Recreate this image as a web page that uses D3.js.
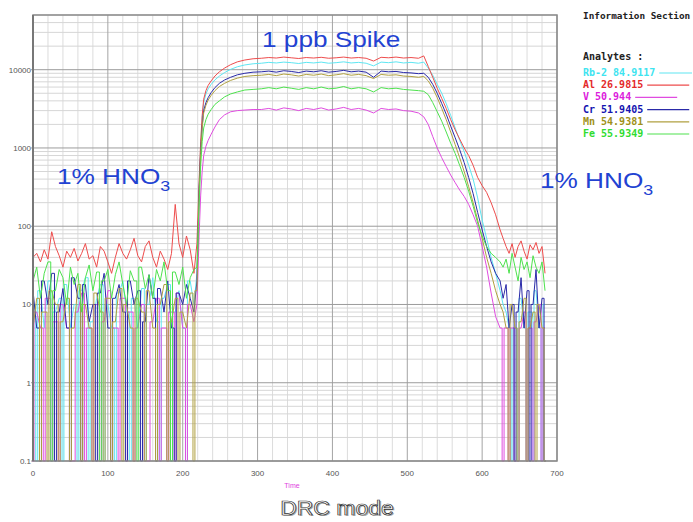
<!DOCTYPE html>
<html>
<head>
<meta charset="utf-8">
<script src="https://cdn.jsdelivr.net/npm/d3@7"></script>
<style>
  body { margin: 0; background: #fff; }
  svg { display: block; }
</style>
</head>
<body>
<div id="chart"></div>
<script>
const width = 693;
const height = 522;
const plot = { left: 33, right: 557, top: 15, bottom: 461 };

// time axis samples (s)
const times = [
  0, 5, 10, 15, 20, 25, 30, 35, 40, 45, 50, 55, 60, 65, 70, 75, 80, 85, 90, 95,
  100, 105, 110, 115, 120, 125, 130, 135, 140, 145, 150, 155, 160, 165, 170, 175,
  180, 185, 190, 195, 200, 205, 210, 215,
  219, 222, 224, 226, 228, 231, 234, 238, 243, 249, 256, 264, 273, 283, 294,
  305, 315, 325, 335, 345, 355, 365, 375, 385, 395, 405, 415, 425, 435, 445, 455,
  465, 475, 485, 495, 505, 515,
  522, 528, 534, 540, 546, 552, 558, 564, 570, 576, 582, 588, 594, 600, 606, 612, 618, 624,
  628, 632, 636, 640, 644, 648, 652, 656, 660, 664, 668, 672, 676, 680, 684
];

// counts per second, one array per analyte
const rb = [
  10, 0, 15, 5, 20, 0, 8, 12, 0, 18, 5, 10, 0, 15, 22, 0, 6, 12, 18, 0,
  10, 5, 0, 14, 20, 8, 0, 12, 5, 16, 0, 10, 22, 6, 0, 12, 18, 0, 8, 15, 5, 0, 20, 10,
  25, 350, 1100, 2400, 3800, 4900, 5700, 6500, 7400, 8300, 9200, 10100, 10900, 11500, 11900,
  12100, 12400, 12200, 12500, 12300, 12000, 12400, 12200, 12500, 12100, 12300, 12600, 12200,
  12400, 12100, 11200, 12500, 12300, 12600, 12200, 12400, 12100,
  12500, 10500, 8500, 6500, 5000, 3700, 2600, 1800, 1250, 900, 600, 400, 230, 120, 70, 40, 25, 15,
  10, 8, 5, 0, 5, 0, 12, 5, 0, 8, 0, 15, 5, 0, 10
];
const al = [
  40, 45, 35, 50, 38, 85, 55, 42, 30, 48, 40, 52, 36, 45, 60, 38, 42, 30, 55, 48,
  35, 25, 40, 60, 45, 38, 50, 70, 42, 35, 55, 65, 40, 30, 48, 38, 28, 45, 190, 60, 40, 75, 50, 25,
  60, 400, 1200, 2600, 4200, 5400, 6300, 7200, 8300, 9400, 10500, 11600, 12600, 13300, 13800,
  14000, 14300, 14100, 14500, 14200, 13900, 14300, 14100, 14400, 14000, 14200, 14500, 14100,
  14300, 14000, 12900, 14400, 14200, 14500, 14100, 14300, 14000,
  15000, 11000, 8000, 5800, 4300, 3200, 2300, 1700, 1300, 1000, 800, 600, 420, 330, 270, 200, 140, 90,
  70, 55, 45, 60, 40, 55, 65, 48, 38, 58, 50, 62, 45, 55, 25
];
const v = [
  0, 8, 5, 0, 12, 0, 6, 0, 10, 5, 0, 0, 8, 14, 0, 5, 0, 10, 0, 6,
  15, 0, 5, 0, 12, 0, 8, 0, 5, 10, 0, 0, 6, 12, 0, 5, 0, 8, 0, 14, 5, 0, 10, 6,
  10, 80, 250, 500, 800, 1050, 1250, 1500, 1850, 2300, 2650, 2900, 3000, 3050, 3100,
  3100, 3200, 3050, 3250, 3150, 3000, 3200, 3100, 3250, 3050, 3150, 3300, 3100,
  3200, 3050, 2800, 3200, 3100, 3150, 3000, 2950, 2800,
  2500, 2000, 1400, 1000, 750, 580, 450, 360, 290, 240, 190, 140, 100, 55, 30, 14, 7, 5,
  0, 5, 0, 5, 0, 0, 5, 8, 0, 5, 0, 6, 10, 0, 5
];
const cr = [
  15, 5, 0, 20, 10, 25, 0, 8, 16, 5, 0, 22, 12, 0, 18, 6, 10, 0, 14, 25,
  5, 0, 12, 18, 8, 0, 20, 10, 15, 0, 6, 24, 12, 0, 16, 8, 20, 5, 0, 14, 10, 18, 12, 8,
  20, 300, 900, 1900, 3000, 3800, 4400, 5100, 5900, 6700, 7400, 8000, 8600, 9000, 9300,
  9400, 9600, 9300, 9700, 9500, 9200, 9600, 9400, 9700, 9300, 9500, 9800, 9400,
  9600, 9300, 8000, 9600, 9400, 9500, 9200, 9100, 8900,
  9000, 8000, 6500, 5000, 3700, 2700, 1900, 1350, 950, 650, 420, 260, 150, 90, 55, 35, 25, 20,
  12, 18, 5, 10, 0, 8, 22, 5, 15, 0, 10, 28, 5, 12, 0
];
const mn = [
  5, 12, 0, 8, 0, 15, 10, 0, 6, 12, 0, 5, 18, 0, 10, 5, 0, 14, 8, 0,
  12, 0, 6, 16, 0, 10, 5, 0, 12, 8, 0, 15, 5, 0, 10, 18, 0, 6, 12, 0, 8, 5, 14, 0,
  15, 280, 850, 1800, 2800, 3500, 4100, 4700, 5400, 6100, 6700, 7300, 7800, 8200, 8400,
  8500, 8700, 8400, 8800, 8600, 8300, 8700, 8500, 8800, 8400, 8600, 8900, 8500,
  8700, 8400, 7700, 8700, 8500, 8600, 8300, 8200, 8000,
  8200, 7200, 5800, 4400, 3200, 2300, 1600, 1100, 750, 500, 320, 200, 120, 70, 40, 25, 15, 10,
  8, 5, 0, 10, 5, 0, 6, 12, 0, 5, 8, 0, 10, 5, 0
];
const fe = [
  20, 30, 12, 25, 35, 0, 15, 28, 22, 10, 30, 18, 25, 8, 22, 32, 15, 26, 0, 20,
  28, 12, 24, 35, 18, 10, 27, 20, 0, 30, 16, 24, 12, 28, 20, 35, 15, 0, 26, 18, 30, 12, 22, 28,
  30, 200, 600, 1200, 1800, 2300, 2700, 3100, 3600, 4000, 4500, 4900, 5200, 5500, 5600,
  5700, 5900, 5700, 6000, 5800, 5600, 5900, 5700, 6000, 5700, 5800, 6100, 5700,
  5900, 5700, 5200, 5900, 5700, 5800, 5600, 5500, 5400,
  5300, 4800, 3800, 2900, 2200, 1600, 1150, 850, 600, 420, 280, 180, 110, 75, 55, 45, 40, 35,
  30, 38, 25, 45, 30, 20, 40, 28, 35, 22, 42, 30, 25, 35, 15
];

const analyteNames = ["Rb-2 84.9117", "Al 26.9815", "V 50.944", "Cr 51.9405", "Mn 54.9381", "Fe 55.9349"];
const analyteValues = [rb, al, v, cr, mn, fe];
const lineColors = ["#5ee6f2", "#ee4c4c", "#e04ce0", "#2a2aa8", "#b0a040", "#4ee24e"];
const labelColors = ["#3ee4f0", "#e42a2a", "#dc20dc", "#1414b0", "#a09018", "#30dc30"];

const xTicks = [0, 100, 200, 300, 400, 500, 600, 700];
const yTicks = [0.1, 1, 10, 100, 1000, 10000];

const svg = d3.select("#chart")
  .append("svg")
  .attr("width", width)
  .attr("height", height);

const xScale = d3.scaleLinear()
  .domain([0, 700])
  .range([plot.left, plot.right]);

const yScale = d3.scaleLog()
  .domain([0.1, 50000])
  .range([plot.bottom, plot.top])
  .clamp(true);

// grid
const grid = svg.append("g");

const minorX = d3.range(0, 701, 20).filter(d => d % 100 !== 0);
grid.selectAll("line.mx")
  .data(minorX)
  .join("line")
  .attr("x1", d => xScale(d)).attr("x2", d => xScale(d))
  .attr("y1", plot.top).attr("y2", plot.bottom)
  .attr("stroke", "#dcdcdc");

const minorY = [];
[0.1, 1, 10, 100, 1000, 10000].forEach(dec => {
  for (let k = 2; k <= 9; k++) {
    if (dec * k <= 50000) minorY.push(dec * k);
  }
});
grid.selectAll("line.my")
  .data(minorY)
  .join("line")
  .attr("x1", plot.left).attr("x2", plot.right)
  .attr("y1", d => yScale(d)).attr("y2", d => yScale(d))
  .attr("stroke", "#d6d6d6");

grid.selectAll("line.MX")
  .data(xTicks)
  .join("line")
  .attr("x1", d => xScale(d)).attr("x2", d => xScale(d))
  .attr("y1", plot.top).attr("y2", plot.bottom)
  .attr("stroke", "#a4a4a4");

grid.selectAll("line.MY")
  .data(yTicks)
  .join("line")
  .attr("x1", plot.left - 2).attr("x2", plot.right)
  .attr("y1", d => yScale(d)).attr("y2", d => yScale(d))
  .attr("stroke", "#9c9c9c");

// traces: zero readings drop straight down to the axis floor as a narrow notch
const notch = 1.3;
const tracePoints = vals => {
  const pts = [];
  times.forEach((t, j) => {
    if (vals[j] > 0) {
      pts.push([t, vals[j]]);
    } else {
      const prev = j > 0 ? vals[j - 1] : 0;
      const next = j < times.length - 1 ? vals[j + 1] : 0;
      pts.push([t - notch, prev], [t - notch, 0], [t + notch, 0], [t + notch, next]);
    }
  });
  return pts;
};

const line = d3.line()
  .x(d => xScale(d[0]))
  .y(d => yScale(Math.max(d[1], 0.1)));

svg.append("g")
  .selectAll("path")
  .data(analyteValues.map((vals, i) => ({ i, pts: tracePoints(vals) })))
  .join("path")
  .attr("d", d => line(d.pts))
  .attr("fill", "none")
  .attr("stroke", d => lineColors[d.i])
  .attr("stroke-width", 1);

// frame
svg.append("rect")
  .attr("x", plot.left).attr("y", plot.top)
  .attr("width", plot.right - plot.left)
  .attr("height", plot.bottom - plot.top)
  .attr("fill", "none")
  .attr("stroke", "#8a8a8a")
  .attr("stroke-width", 1.5);

svg.append("line")
  .attr("x1", plot.left).attr("x2", plot.left)
  .attr("y1", plot.top).attr("y2", plot.bottom)
  .attr("stroke", "#777").attr("stroke-width", 2);

// tick labels
svg.append("g")
  .selectAll("text")
  .data(yTicks)
  .join("text")
  .attr("x", plot.left - 2)
  .attr("y", d => yScale(d) + 3)
  .attr("text-anchor", "end")
  .attr("font-family", "Liberation Sans, Arial, sans-serif")
  .attr("font-size", 8)
  .attr("fill", "#555")
  .text(d => d);

svg.append("g")
  .selectAll("text")
  .data(xTicks)
  .join("text")
  .attr("x", d => xScale(d))
  .attr("y", 476)
  .attr("text-anchor", "middle")
  .attr("font-family", "Liberation Sans, Arial, sans-serif")
  .attr("font-size", 8)
  .attr("fill", "#555")
  .text(d => d);

svg.append("text")
  .attr("x", 292).attr("y", 488)
  .attr("text-anchor", "middle")
  .attr("font-family", "Liberation Sans, Arial, sans-serif")
  .attr("font-size", 7)
  .attr("fill", "#e040e0")
  .text("Time");

// annotations
const note = (x, y, main, sub) => {
  const g = svg.append("g")
    .attr("transform", `translate(${x}, ${y}) scale(1.19, 1)`);
  const t = g.append("text")
    .attr("font-family", "Liberation Sans, Arial, sans-serif")
    .attr("font-size", 22)
    .attr("fill", "#2242d2")
    .text(main);
  if (sub) {
    t.append("tspan")
      .attr("font-size", 15)
      .attr("dy", 7)
      .text(sub);
  }
};
note(262, 47, "1 ppb Spike");
note(57, 184, "1% HNO", "3");
note(540, 188, "1% HNO", "3");

// legend
const legend = svg.append("g")
  .attr("font-family", "DejaVu Sans Mono, monospace")
  .attr("font-size", 10)
  .attr("font-weight", "bold");

legend.append("text")
  .attr("x", 583).attr("y", 19)
  .attr("font-size", 9.4)
  .attr("fill", "#222")
  .text("Information Section");

legend.append("text")
  .attr("x", 583).attr("y", 60)
  .attr("fill", "#222")
  .text("Analytes :");

analyteNames.forEach((name, i) => {
  const y = 76 + i * 12.2;
  const t = legend.append("text")
    .attr("x", 583).attr("y", y)
    .attr("fill", labelColors[i])
    .text(name);
  const end = 583 + t.node().getComputedTextLength();
  legend.append("line")
    .attr("x1", end + 4).attr("x2", Math.min(end + 46, 692))
    .attr("y1", y - 3).attr("y2", y - 3)
    .attr("stroke", lineColors[i])
    .attr("stroke-width", 1.2);
});

// caption: white letters with a dark outline and soft shadow
const cap = svg.append("g")
  .attr("transform", "translate(337, 515) scale(1.15, 1)");
cap.append("text")
  .attr("x", 1.2).attr("y", 1.2)
  .attr("text-anchor", "middle")
  .attr("font-family", "Liberation Sans, Arial, sans-serif")
  .attr("font-size", 20)
  .attr("fill", "#aaa")
  .text("DRC mode");
cap.append("text")
  .attr("text-anchor", "middle")
  .attr("font-family", "Liberation Sans, Arial, sans-serif")
  .attr("font-size", 20)
  .attr("fill", "#fff")
  .attr("stroke", "#333")
  .attr("stroke-width", 0.7)
  .text("DRC mode");
</script>
</body>
</html>
